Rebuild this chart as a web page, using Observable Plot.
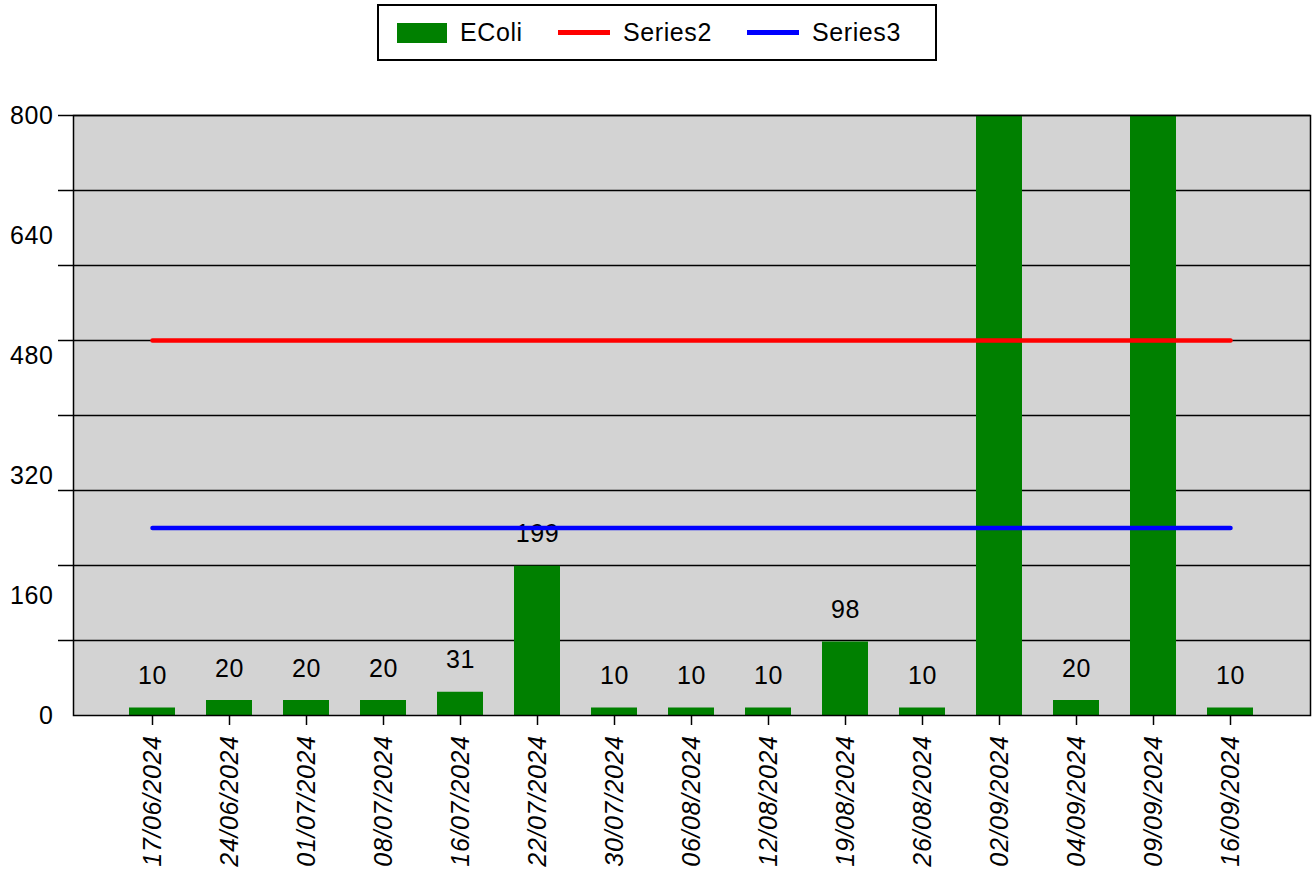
<!DOCTYPE html>
<html>
<head>
<meta charset="utf-8">
<script src="https://cdn.jsdelivr.net/npm/d3@7"></script>
<script src="https://cdn.jsdelivr.net/npm/@observablehq/plot@0.6"></script>
<style>
  html, body { margin: 0; padding: 0; background: #fff; }
  body { width: 1314px; height: 872px; overflow: hidden; font-family: "Liberation Sans", Arial, sans-serif; }
  #legend { position: relative; height: 75px; }
  #legend .box { position: absolute; left: 377px; top: 4px; width: 556px; height: 53px; border: 2px solid #000; }
  #legend .item { position: absolute; top: 0; height: 53px; display: flex; align-items: center; font-size: 25px; letter-spacing: 0.6px; color: #000; }
  #legend .sw { display: inline-block; margin-right: 13px; }
</style>
</head>
<body>
<div id="legend"><div class="box"></div></div>
<div id="chart"></div>
<script>
const dates = ["17/06/2024","24/06/2024","01/07/2024","08/07/2024","16/07/2024","22/07/2024","30/07/2024","06/08/2024","12/08/2024","19/08/2024","26/08/2024","02/09/2024","04/09/2024","09/09/2024","16/09/2024"];
const ecoli = [10, 20, 20, 20, 31, 199, 10, 10, 10, 98, 10, 800, 20, 800, 10];
const series2 = 500;
const series3 = 250;
const yLabelTicks = [0, 160, 320, 480, 640, 800];
const gridTicks = [100, 200, 300, 400, 500, 600, 700, 800];
const seriesNames = ["EColi", "Series2", "Series3"];
const seriesColors = ["#008000", "#ff0000", "#0000ff"];

const yMax = 800;
const rows = dates.map((d, i) => ({date: d, v: ecoli[i], s2: series2, s3: series3}));

// legend
const legend = document.querySelector("#legend .box");
const itemLefts = [18, 179, 368];
seriesNames.forEach((name, i) => {
  const it = document.createElement("div");
  it.className = "item";
  it.style.left = itemLefts[i] + "px";
  const sw = document.createElement("span");
  sw.className = "sw";
  if (i === 0) { sw.style.width = "50px"; sw.style.height = "20px"; }
  else { sw.style.width = "52px"; sw.style.height = "5px"; }
  sw.style.background = seriesColors[i];
  it.appendChild(sw);
  it.appendChild(document.createTextNode(name));
  legend.appendChild(it);
});

const FS = 25;
const chart = Plot.plot({
  width: 1314,
  height: 797,
  marginLeft: 73,
  marginRight: 4,
  marginTop: 40,
  marginBottom: 157,
  style: {fontFamily: "Liberation Sans, Arial, sans-serif", fontSize: FS + "px", letterSpacing: "0.6px", color: "#000", background: "#fff"},
  x: {domain: dates, paddingInner: 0.4, paddingOuter: 0.7, label: null},
  y: {domain: [0, yMax], clamp: true, label: null},
  marks: [
    Plot.frame({fill: "#d3d3d3", stroke: "none"}),
    Plot.gridY(gridTicks, {stroke: "#000", strokeOpacity: 1, strokeWidth: 1.5}),
    Plot.barY(rows, {x: "date", y: "v", fill: seriesColors[0]}),
    Plot.text(rows.filter(d => d.v < yMax), {x: "date", y: "v", text: d => String(d.v), dy: -32, fontSize: FS, fill: "#000"}),
    Plot.line(rows, {x: "date", y: "s2", stroke: seriesColors[1], strokeWidth: 4.5}),
    Plot.line(rows, {x: "date", y: "s3", stroke: seriesColors[2], strokeWidth: 4.5}),
    Plot.frame({stroke: "#000", strokeWidth: 1.5}),
    Plot.axisY(gridTicks, {tickSize: 15, text: null, stroke: "#000", strokeWidth: 1.5}),
    Plot.axisY(yLabelTicks, {tickSize: 0, tickPadding: 20, fontSize: FS, tickFormat: d => String(d), label: null}),
    Plot.axisX({tickSize: 10, tickPadding: 10, tickRotate: -90, fontSize: FS, fontStyle: "italic", stroke: "#000", strokeWidth: 1.5, label: null})
  ]
});
document.getElementById("chart").appendChild(chart);
</script>
</body>
</html>
